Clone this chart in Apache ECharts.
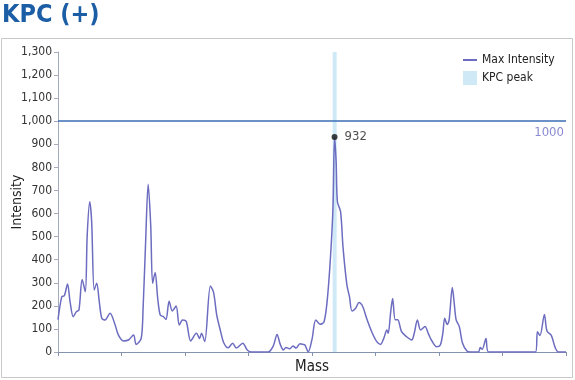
<!DOCTYPE html>
<html>
<head>
<meta charset="utf-8">
<script src="https://cdn.jsdelivr.net/npm/echarts@6/dist/echarts.min.js"></script>
<style>
html,body{margin:0;padding:0;background:#fff;}
#main{width:575px;height:380px;}
</style>
</head>
<body>
<div id="main"></div>
<script>
var masses = [0,6,10,15,19,24,29,33,38,43,46,50,53,57,61,65,69,74,82,90,95,103,111,119,123,131,134,138,142,146,149,153,157,161,166,170,175,180,186,191,196,202,209,218,223,226,231,240,245,250,256,261,268,275,281,291,298,305,331,339,345,350,355,359,365,370,375,381,386,389,394,400,406,413,419,424,429,433,435.5,438,440,445,449,455,459,463,469,474,480,486,494,502,508,513,518,520,524,527,531,535,541,549,557,561,566,571,578,583,588,596,602,606,609,613,616,621,624,627,632,637,644,649,662,665,668,674,678,752,755,759,766,770,777,783,788,800];
var intensity = [140,240,244,295,218,153,175,182,314,261,507,651,565,269,298,218,146,139,168,117,74,48,52,74,33,59,189,478,727,550,298,345,233,160,153,141,220,178,199,117,139,132,48,81,59,81,45,286,258,160,90,40,18,38,17,38,9,0,0,26,76,33,9,20,14,26,17,36,33,30,0,55,139,120,131,225,406,623,932,825,651,608,449,290,240,178,191,214,196,146,88,45,33,59,95,81,175,232,140,140,88,66,52,81,139,95,110,81,52,23,30,81,146,119,139,280,211,139,110,39,4,0,0,19,12,59,0,0,88,71,163,91,71,19,0,0];
var peakMass = [435.5];
var peakIntensity = [932];
var kpcBand = [432.5, 438.8];
var thresholdValue = 1000;
var legendNames = ['Max Intensity', 'KPC peak'];

var FONT = '"DejaVu Sans Condensed", "Liberation Sans", sans-serif';

var lineData = masses.map(function (m, i) { return [m, intensity[i]]; });
var peakData = peakMass.map(function (m, i) { return [m, peakIntensity[i]]; });

var chart = echarts.init(document.getElementById('main'), null, {renderer: 'canvas'});
chart.setOption({
  backgroundColor: '#ffffff',
  animation: false,
  title: {
    text: 'KPC (+)',
    left: 0,
    top: 3,
    padding: [0, 2],
    textStyle: {fontSize: 25, fontWeight: 'bold', color: '#1b5ea6', fontFamily: FONT}
  },
  graphic: [{
    type: 'rect',
    shape: {x: 1.5, y: 38.5, width: 571, height: 339},
    style: {fill: 'none', stroke: '#c9c9c9', lineWidth: 1},
    z: -1
  }],
  legend: {
    data: [
      {name: legendNames[0], icon: 'path://M0,0 L14,0 L14,2 L0,2 Z'},
      {name: legendNames[1], icon: 'rect'}
    ],
    orient: 'vertical',
    left: 463,
    top: 54,
    padding: 0,
    itemWidth: 14,
    itemHeight: 14,
    itemGap: 5,
    textStyle: {fontSize: 12, color: '#222', fontFamily: FONT}
  },
  grid: {left: 58, right: 9, top: 52, bottom: 28, containLabel: false, outerBoundsMode: 'none'},
  xAxis: {
    type: 'value',
    min: 0,
    max: 800,
    interval: 100,
    name: 'Mass',
    nameLocation: 'middle',
    nameGap: 8,
    nameMoveOverlap: false,
    nameTextStyle: {fontSize: 15, color: '#222', fontFamily: FONT, verticalAlign: 'top'},
    axisLine: {show: true, lineStyle: {color: '#8492ad', width: 1}},
    axisTick: {show: true, length: 4, lineStyle: {color: '#8492ad'}},
    axisLabel: {show: false},
    splitLine: {show: false}
  },
  yAxis: {
    type: 'value',
    min: 0,
    max: 1300,
    interval: 100,
    name: 'Intensity',
    nameLocation: 'middle',
    nameGap: 34,
    nameRotate: 90,
    nameMoveOverlap: false,
    nameTextStyle: {fontSize: 14, color: '#222', fontFamily: FONT},
    axisLine: {show: true, lineStyle: {color: '#a3abbb', width: 1}},
    axisTick: {show: true, length: 4, lineStyle: {color: '#a3abbb'}},
    axisLabel: {
      fontSize: 12, color: '#333', fontFamily: FONT, margin: 6,
      formatter: function (v) { return v.toLocaleString('en-US'); }
    },
    splitLine: {show: false}
  },
  series: [
    {
      name: legendNames[1],
      type: 'line',
      data: [],
      symbol: 'none',
      itemStyle: {color: '#cfe9f7'},
      lineStyle: {color: '#cfe9f7'},
      markArea: {
        silent: true,
        itemStyle: {color: '#cfe9f7', opacity: 1},
        data: [[{xAxis: kpcBand[0]}, {xAxis: kpcBand[1]}]]
      },
      z: 1
    },
    {
      name: legendNames[0],
      type: 'line',
      data: lineData,
      symbol: 'none',
      smooth: 0.3,
      itemStyle: {color: '#6c6cc0'},
      lineStyle: {color: '#6c6cc0', width: 1.5},
      markLine: {
        silent: true,
        symbol: 'none',
        lineStyle: {color: '#3b6db5', width: 1.5, type: 'solid'},
        label: {
          show: true,
          position: 'insideEndBottom',
          formatter: String(thresholdValue),
          color: '#8a8ad2',
          fontSize: 13,
          fontFamily: FONT,
          distance: [2, 5]
        },
        data: [{yAxis: thresholdValue}]
      },
      z: 3
    },
    {
      name: 'peak',
      type: 'scatter',
      data: peakData,
      symbol: 'circle',
      symbolSize: 6,
      itemStyle: {color: '#111'},
      label: {
        show: true,
        position: 'right',
        distance: 3,
        formatter: function (p) { return String(p.value[1]); },
        color: '#222',
        fontSize: 13,
        fontFamily: FONT,
        backgroundColor: '#fff',
        padding: [3, 4]
      },
      z: 5
    }
  ]
});
</script>
</body>
</html>
